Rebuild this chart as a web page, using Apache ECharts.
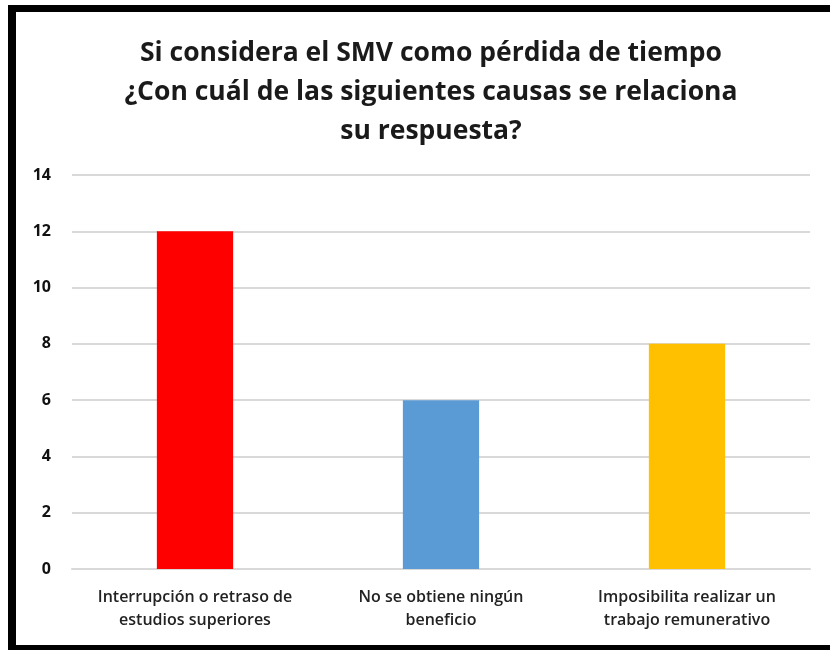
<!DOCTYPE html>
<html>
<head>
<meta charset="utf-8">
<script src="https://cdn.jsdelivr.net/npm/echarts@6/dist/echarts.min.js"></script>
<style>
  html, body { margin: 0; padding: 0; background: #fff; }
  #main { width: 830px; height: 650px; }
</style>
</head>
<body>
<div id="main"></div>
<script>
var categories = ['Interrupción o retraso de\nestudios superiores', 'No se obtiene ningún\nbeneficio', 'Imposibilita realizar un\ntrabajo remunerativo'];
var values = [12, 6, 8];
var barColors = ['#ff0000', '#5b9bd5', '#ffc000'];
var yTicks = [0, 2, 4, 6, 8, 10, 12, 14];

var chartDom = document.getElementById('main');
var myChart = echarts.init(chartDom);

var option = {
    backgroundColor: '#fff',
    textStyle: { fontFamily: 'Open Sans' },
    title: {
        text: 'Si considera el SMV como pérdida de tiempo\n¿Con cuál de las siguientes causas se relaciona\nsu respuesta?',
        left: 426,
        top: 29,
        textAlign: 'center',
        textStyle: {
            fontSize: 26.5,
            fontWeight: 'bold',
            color: '#1a1a1a',
            lineHeight: 39,
            fontFamily: 'Open Sans'
        }
    },
    graphic: [
        { type: 'rect', shape: { x: 8, y: 5, width: 8, height: 645 }, style: { fill: '#000' } },
        { type: 'rect', shape: { x: 8, y: 5, width: 822, height: 7 }, style: { fill: '#000' } },
        { type: 'rect', shape: { x: 8, y: 645, width: 822, height: 5 }, style: { fill: '#000' } }
    ],
    grid: { left: 72, right: 20, top: 175, bottom: 81 },
    xAxis: {
        type: 'category',
        data: categories,
        axisLine: { show: true, lineStyle: { color: '#d9d9d9', width: 2 } },
        axisTick: { show: false },
        axisLabel: {
            interval: 0,
            hideOverlap: false,
            color: '#222',
            fontSize: 16,
            fontWeight: 600,
            lineHeight: 23,
            margin: 17
        }
    },
    yAxis: {
        type: 'value',
        min: yTicks[0],
        max: yTicks[yTicks.length - 1],
        interval: 2,
        axisLine: { show: false },
        axisTick: { show: false },
        splitLine: { lineStyle: { color: '#d9d9d9', width: 2 } },
        axisLabel: {
            color: '#111',
            fontSize: 16,
            fontWeight: 'bold',
            margin: 21
        }
    },
    series: [{
        type: 'bar',
        barWidth: '31%',
        data: values.map(function (v, i) {
            return { value: v, itemStyle: { color: barColors[i] } };
        })
    }]
};

option && myChart.setOption(option);
</script>
</body>
</html>
